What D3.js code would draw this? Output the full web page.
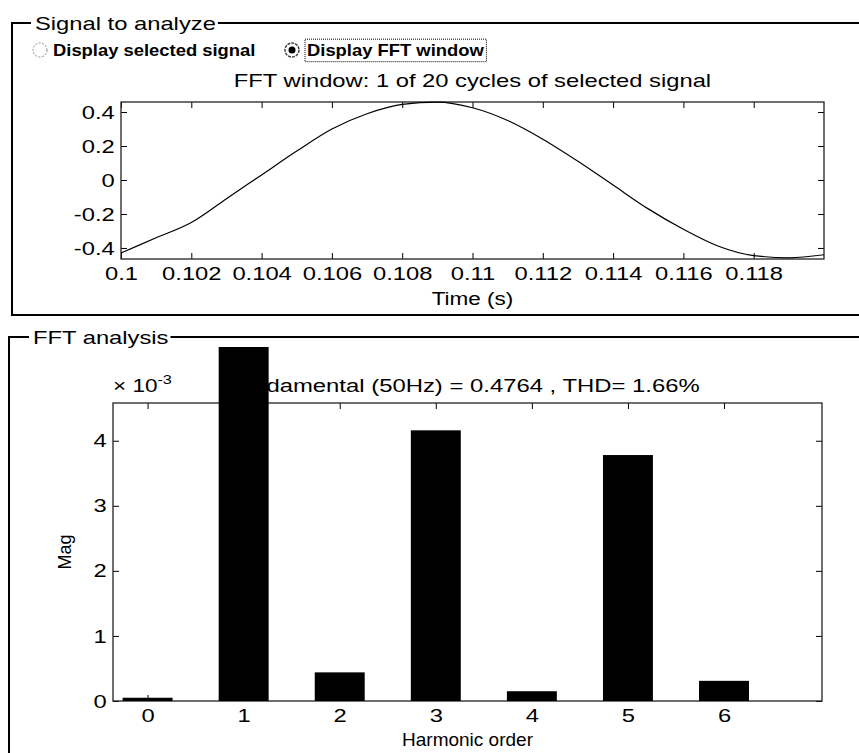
<!DOCTYPE html>
<html>
<head>
<meta charset="utf-8">
<script src="https://cdn.jsdelivr.net/npm/d3@7"></script>
<style>
  body { margin: 0; background: #fff; }
  text { font-family: Arial, "Liberation Sans", Helvetica, sans-serif; fill: #000; }
</style>
</head>
<body>
<div id="chart"></div>
<script>
// signal window (one cycle)
var timeValues = [0.100, 0.101, 0.102, 0.103, 0.104, 0.105, 0.106, 0.107, 0.108, 0.109, 0.110,
                  0.111, 0.112, 0.113, 0.114, 0.115, 0.116, 0.117, 0.118, 0.119, 0.120];
var signalValues = [-0.43, -0.34, -0.25, -0.11, 0.03, 0.17, 0.30, 0.39, 0.445, 0.458, 0.425,
                    0.35, 0.24, 0.11, -0.03, -0.17, -0.29, -0.39, -0.445, -0.458, -0.44];
var timeTicks = [0.1, 0.102, 0.104, 0.106, 0.108, 0.11, 0.112, 0.114, 0.116, 0.118];
var signalTicks = [-0.4, -0.2, 0, 0.2, 0.4];

// harmonic spectrum, magnitudes in units of 1e-3
var harmonicOrders = [0, 1, 2, 3, 4, 5, 6];
var harmonicMags = [0.05, 476.4, 0.44, 4.16, 0.15, 3.78, 0.31];
var magTicks = [0, 1, 2, 3, 4];

var width = 859,
    height = 753,
    sx = 1.25;   // the scanned text is wider than plain Arial

var svg = d3.select("#chart")
    .append("svg")
    .attr("width", width)
    .attr("height", height);

function label(parent, x, y, str, size, anchor, stretch) {
    return parent.append("text")
        .attr("transform", "translate(" + x + "," + y + ") scale(" + (stretch || 1) + ",1)")
        .attr("text-anchor", anchor || "start")
        .style("font-size", size + "px")
        .text(str);
}

function framePanel(x, y, bottom, title, titleX) {
    // group box outline, the title breaks the top line
    var t = label(svg, titleX, y + 7, title, 19, "start", sx);
    var tw = t.node().getBBox().width * sx;
    svg.append("path")
        .attr("d", "M" + (titleX - 4) + "," + y + "H" + x + "V" + bottom + (bottom < height ? "H" + width : ""))
        .attr("fill", "none").attr("stroke", "#000").attr("stroke-width", 2);
    svg.append("line")
        .attr("x1", titleX + tw + 2).attr("x2", width)
        .attr("y1", y).attr("y2", y)
        .attr("stroke", "#000").attr("stroke-width", 2);
}

function boxAxes(g, w, h, xs, ys, xt, yt, xfmt, yfmt) {
    g.append("g")
        .attr("transform", "translate(0," + h + ")")
        .call(d3.axisBottom(xs).tickValues(xt).tickSizeInner(-6).tickSizeOuter(0).tickPadding(8).tickFormat(xfmt));
    g.append("g")
        .call(d3.axisTop(xs).tickValues(xt).tickSizeInner(-6).tickSizeOuter(0).tickFormat(""));
    g.append("g")
        .call(d3.axisLeft(ys).tickValues(yt).tickSizeInner(-6).tickSizeOuter(0).tickPadding(5).tickFormat(yfmt));
    g.append("g")
        .attr("transform", "translate(" + w + ",0)")
        .call(d3.axisRight(ys).tickValues(yt).tickSizeInner(-6).tickSizeOuter(0).tickFormat(""));
    g.selectAll(".domain").remove();
    g.selectAll(".tick line").attr("stroke", "#000");
    g.selectAll(".tick text")
        .style("font-size", "19px")
        .attr("fill", "#000")
        .attr("transform", "scale(" + sx + ",1)");
    g.append("rect")
        .attr("width", w).attr("height", h)
        .attr("fill", "none").attr("stroke", "#222").attr("stroke-width", 1.3);
}

// ---------- Signal to analyze ----------
framePanel(12, 23, 315, "Signal to analyze", 35);

// radio buttons
svg.append("circle").attr("cx", 40).attr("cy", 50).attr("r", 7)
    .attr("fill", "#fff").attr("stroke", "#888").attr("stroke-dasharray", "2,1.5");
label(svg, 53, 56, "Display selected signal", 16, "start", 1.15).style("font-weight", "bold");
svg.append("circle").attr("cx", 292).attr("cy", 50).attr("r", 7)
    .attr("fill", "#fff").attr("stroke", "#444").attr("stroke-width", 1.5).attr("stroke-dasharray", "3,1");
svg.append("circle").attr("cx", 292).attr("cy", 50).attr("r", 3.5).attr("fill", "#000");
var radioText = label(svg, 307, 56, "Display FFT window", 16, "start", 1.15).style("font-weight", "bold");
var rb = radioText.node().getBBox();
svg.append("rect")
    .attr("x", 307 + rb.x * 1.15 - 2).attr("y", 56 + rb.y - 2)
    .attr("width", rb.width * 1.15 + 4).attr("height", rb.height + 4)
    .attr("fill", "none").attr("stroke", "#000").attr("stroke-dasharray", "1,1");

var sig = { x: 121, y: 102, w: 703, h: 157 };
var xTime = d3.scaleLinear().domain([0.1, 0.12]).range([0, sig.w]);
var yTime = d3.scaleLinear().domain([-0.465, 0.459]).range([sig.h, 0]);

var g1 = svg.append("g").attr("transform", "translate(" + sig.x + "," + sig.y + ")");
boxAxes(g1, sig.w, sig.h, xTime, yTime, timeTicks, signalTicks,
    function (d) { return String(+d.toFixed(3)); },
    function (d) { return String(+d.toFixed(1)); });

g1.append("path")
    .datum(d3.zip(timeValues, signalValues))
    .attr("fill", "none")
    .attr("stroke", "#000")
    .attr("stroke-width", 1.2)
    .attr("d", d3.line()
        .x(function (d) { return xTime(d[0]); })
        .y(function (d) { return yTime(d[1]); })
        .curve(d3.curveMonotoneX));

label(g1, sig.w / 2, -15, "FFT window: 1 of 20 cycles of selected signal", 19, "middle", sx);
label(g1, sig.w / 2, sig.h + 46, "Time (s)", 18, "middle", sx);

// ---------- FFT analysis ----------
framePanel(9, 337, height, "FFT analysis", 33);

var fft = { x: 113, y: 403, w: 709, h: 298 };
var xHarm = d3.scaleLinear().domain([-0.36, 7.02]).range([0, fft.w]);
var yMag = d3.scaleLinear().domain([0, 4.58]).range([fft.h, 0]);
var barWidth = 0.52;

var g2 = svg.append("g").attr("transform", "translate(" + fft.x + "," + fft.y + ")");

label(g2, fft.w / 2 - 5, -11, "Fundamental (50Hz) = 0.4764 , THD= 1.66%", 19.1, "middle", sx);

var expo = g2.append("text")
    .attr("transform", "translate(0,-11) scale(" + sx + ",1)")
    .style("font-size", "18px");
expo.append("tspan").text("\u00d7 10");
expo.append("tspan").attr("dy", -8).style("font-size", "13px").text("-3");

boxAxes(g2, fft.w, fft.h, xHarm, yMag, harmonicOrders, magTicks,
    function (d) { return String(d); },
    function (d) { return String(d); });

// bars are not clipped by the axes box (the fundamental runs off the top)
svg.append("clipPath").attr("id", "fftclip")
    .append("rect").attr("x", -fft.x).attr("y", 347 - fft.y).attr("width", width).attr("height", height);

g2.append("g")
    .attr("clip-path", "url(#fftclip)")
    .selectAll("rect")
    .data(harmonicOrders)
    .enter().append("rect")
    .attr("x", function (d) { return xHarm(d - barWidth / 2); })
    .attr("width", xHarm(barWidth) - xHarm(0))
    .attr("y", function (d, i) { return yMag(harmonicMags[i]); })
    .attr("height", function (d, i) { return fft.h - yMag(harmonicMags[i]); })
    .attr("fill", "#000");

g2.append("text")
    .attr("transform", "translate(-42," + (fft.h / 2) + ") rotate(-90)")
    .attr("text-anchor", "middle")
    .style("font-size", "18px")
    .text("Mag");
label(g2, fft.w / 2, fft.h + 45, "Harmonic order", 19, "middle");
</script>
</body>
</html>
